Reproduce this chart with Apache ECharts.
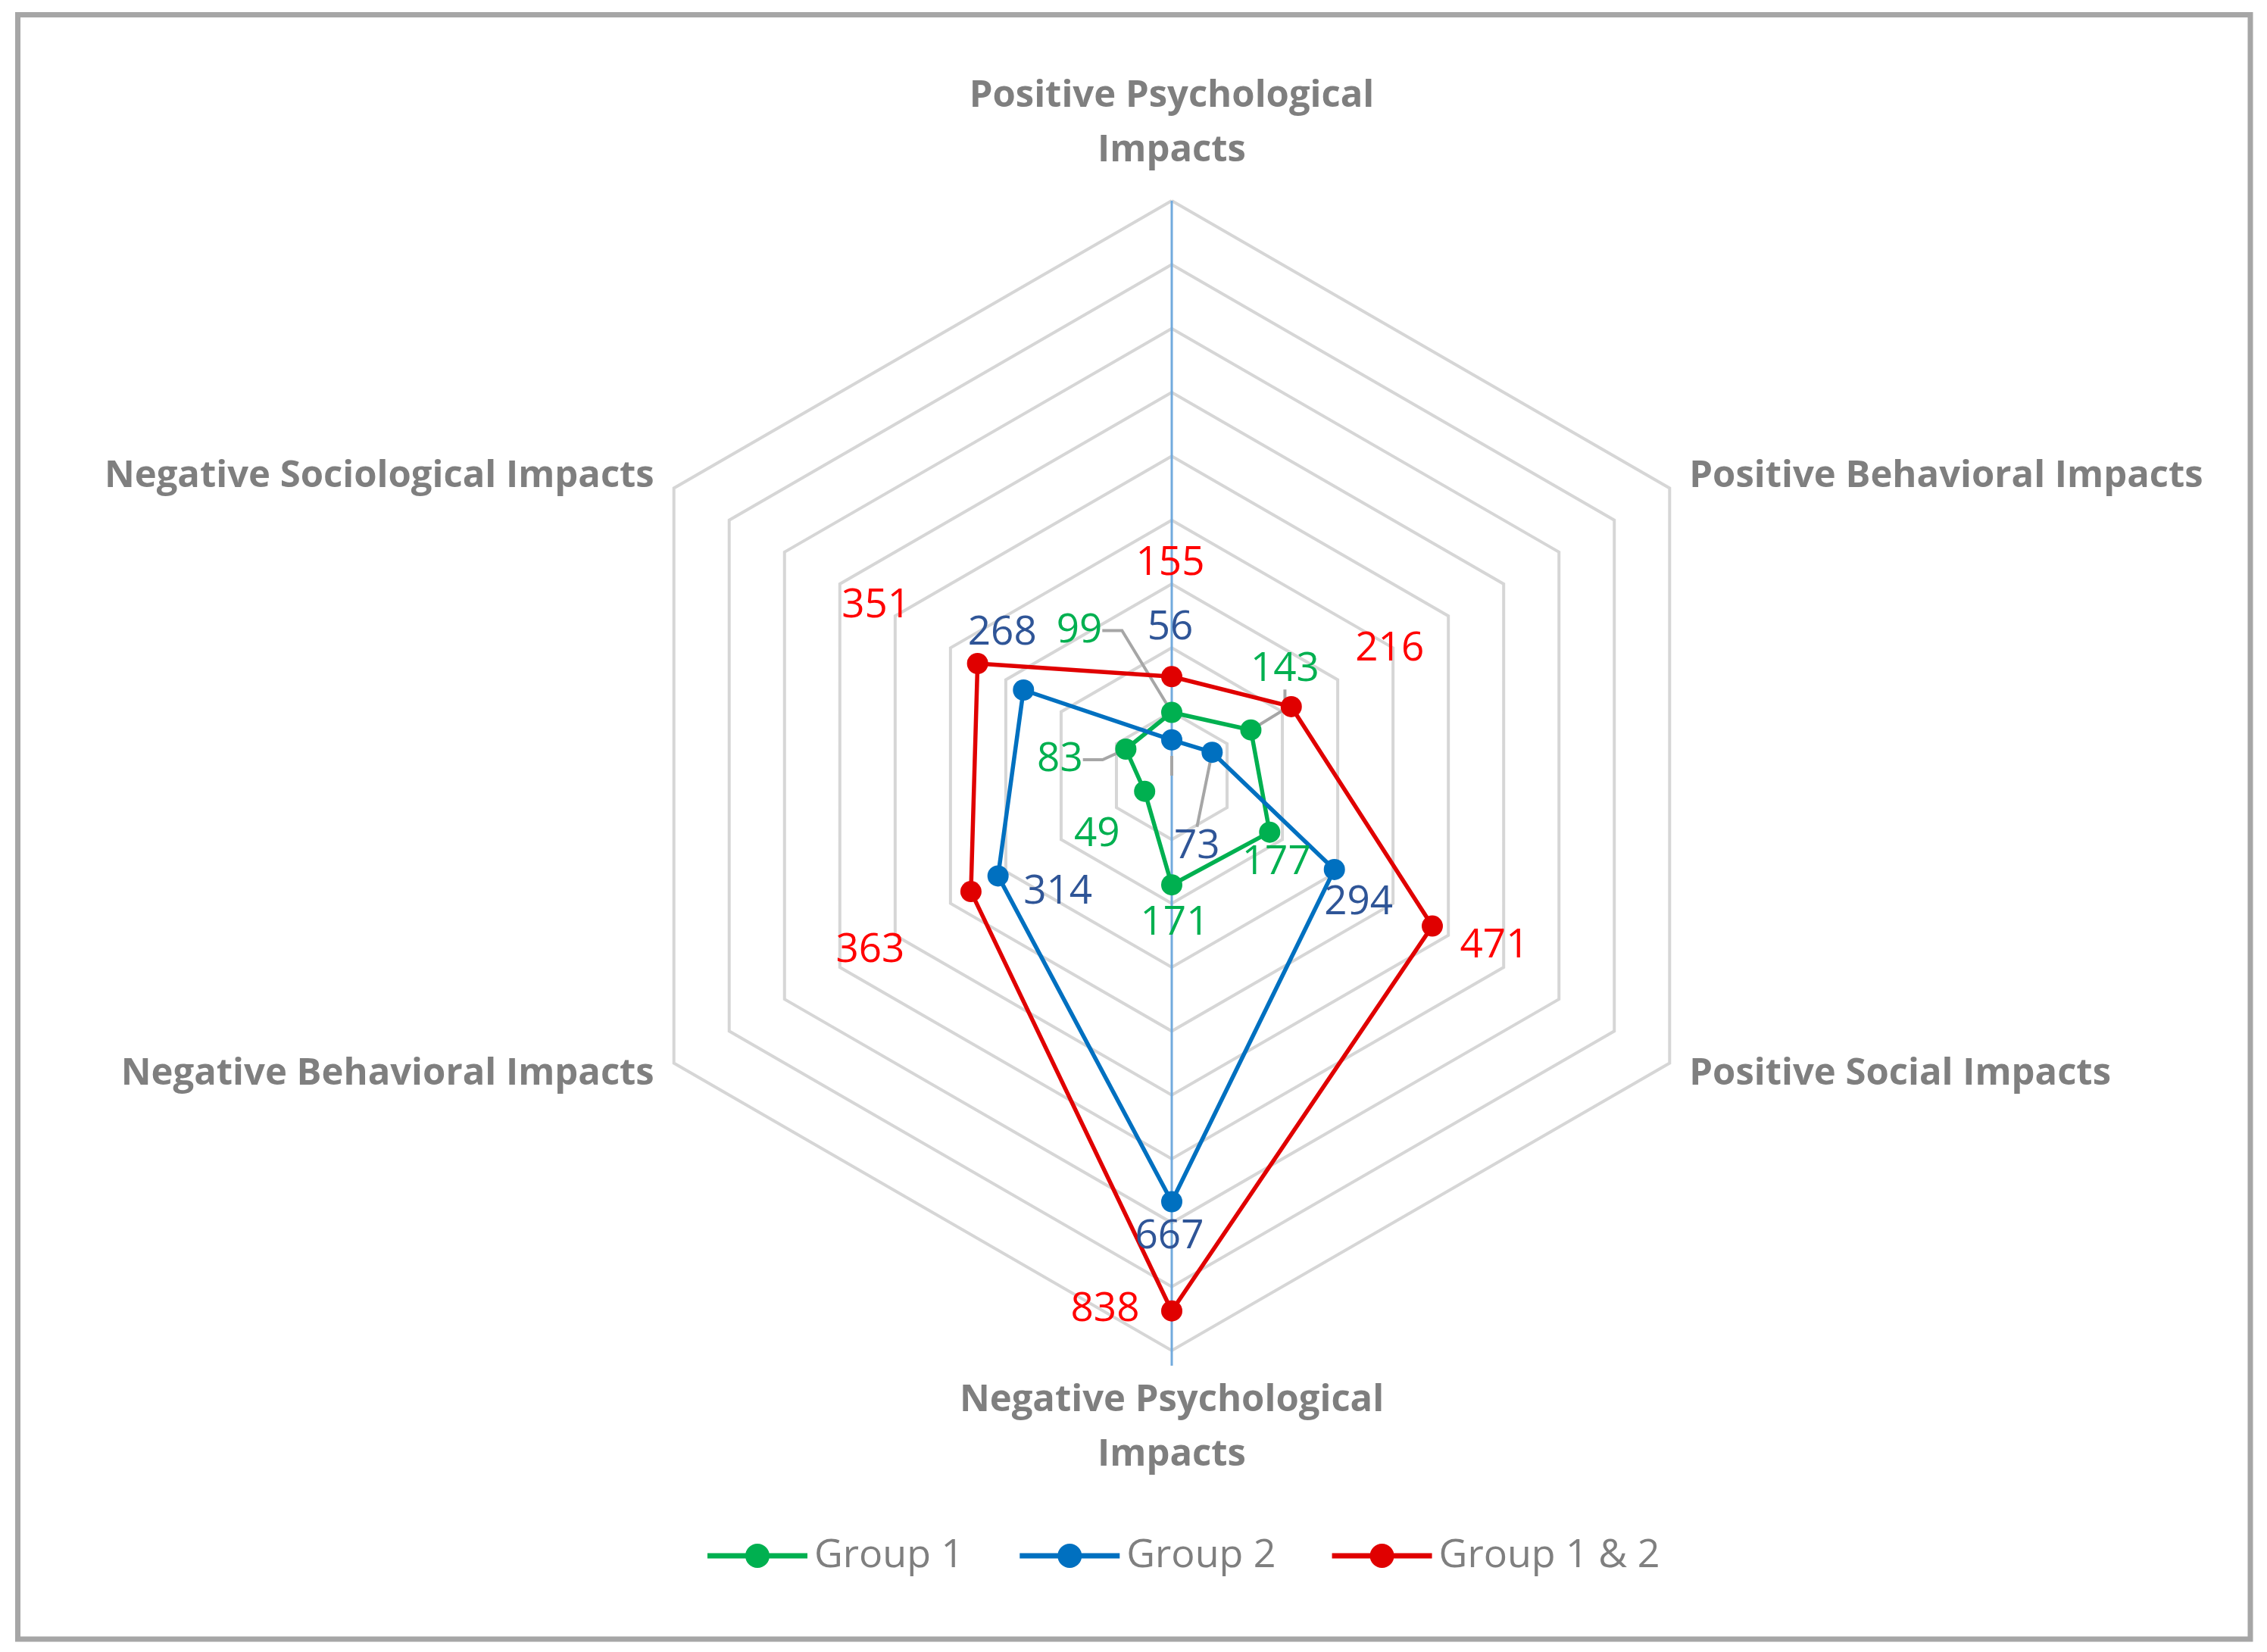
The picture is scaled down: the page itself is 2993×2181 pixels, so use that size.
<!DOCTYPE html>
<html>
<head>
<meta charset="utf-8">
<script src="https://cdn.jsdelivr.net/npm/echarts@6/dist/echarts.min.js"></script>
<style>
html,body{margin:0;padding:0;background:#fff;}
#chart{width:2993px;height:2181px;}
</style>
</head>
<body>
<div id="chart"></div>
<script>
// ---- data (clockwise from top, as in the reference) ----
const categories = [
  'Positive Psychological Impacts',
  'Positive Behavioral Impacts',
  'Positive Social Impacts',
  'Negative Psychological Impacts',
  'Negative Behavioral Impacts',
  'Negative Sociological Impacts'
];
const seriesNames = ['Group 1', 'Group 2', 'Group 1 & 2'];
const group1 = [99, 143, 177, 171, 49, 83];
const group2 = [56, 73, 294, 667, 314, 268];
const group12 = [155, 216, 471, 838, 363, 351];
const axisMin = 0;
const axisMax = 900;
const splitCount = 9;

// ---- label placement (offset from the point, px) ----
const off1 = [[-122,-108],[45,-80],[9,40],[4,51],[-63,57],[-87,14]];
const off2 = [[-2,-148],[-20,125],[32,44],[-3,46],[79,22],[-28,-75]];
const off12 = [[-2,-149],[130,-76],[82,26],[-88,-2],[-133,78],[-134,-76]];
const leaders1 = [99, 143, 83];
const leaders2 = [73];

// ---- styling ----
const CX = 1547, CY = 1024, R = 759;
const lineColors = ['#00b050', '#0070c0', '#e00000'];
const labelColors = ['#00b050', '#2f5597', '#ff0000'];
const FONT = 'Open Sans';
const LABEL_SIZE = 53;

// radar draws indicators counter-clockwise; reorder to get the clockwise layout
const ORDER = [0, 5, 4, 3, 2, 1];
const reorder = arr => ORDER.map(i => arr[i]);

function placer(values, offs) {
  return function (p) {
    const t = String(p.text || '');
    const v = t === '' ? NaN : Number(t.replace(/[^0-9]/g, ''));
    const i = values.indexOf(v);
    const cx = p.rect.x + p.rect.width / 2;
    const cy = p.rect.y + p.rect.height / 2;
    if (i < 0) return { x: cx, y: cy, align: 'center', verticalAlign: 'middle' };
    return { x: cx + offs[i][0], y: cy + offs[i][1], align: 'center', verticalAlign: 'middle' };
  };
}

function mainSeries(k, values, offs) {
  return {
    type: 'radar',
    name: seriesNames[k],
    z: 2,
    symbol: 'circle',
    symbolSize: 28,
    lineStyle: { color: lineColors[k], width: 5.5 },
    itemStyle: { color: lineColors[k] },
    label: {
      show: true, position: 'top', color: labelColors[k],
      fontSize: LABEL_SIZE, fontFamily: FONT, textBorderWidth: 0
    },
    labelLayout: placer(values, offs),
    data: [{ name: seriesNames[k], value: reorder(values) }]
  };
}

// invisible copy of a group that only draws the gray leader lines of some labels
function leaderSeries(k, values, offs, leaders, len2) {
  const masked = values.map(v => leaders.indexOf(v) >= 0 ? v : '-');
  return {
    type: 'radar',
    name: '_leader' + k,
    z: 1,
    silent: true,
    symbol: 'circle',
    symbolSize: 1,
    lineStyle: { opacity: 0, width: 0 },
    itemStyle: { color: 'rgba(0,0,0,0)' },
    label: {
      show: true, position: 'top', color: 'rgba(0,0,0,0)',
      fontSize: LABEL_SIZE, fontFamily: FONT,
      formatter: p => leaders.indexOf(p.value) >= 0 ? '{p|' + p.value + '}' : '',
      rich: { p: { padding: [25, 25, 25, 25], fontSize: LABEL_SIZE, fontFamily: FONT, color: 'rgba(0,0,0,0)' } }
    },
    labelLine: { show: true, length2: len2, lineStyle: { color: '#a6a6a6', width: 4 } },
    labelLayout: placer(values, offs),
    data: [{ name: '_leader' + k, value: reorder(masked) }]
  };
}

const legendIcon = 'path://M0,12.5H50.5V19.5H0Z M81.5,12.5H132V19.5H81.5Z M50,16A16,16 0 1,1 82,16A16,16 0 1,1 50,16Z';

const chart = echarts.init(document.getElementById('chart'), null, { renderer: 'canvas' });
chart.setOption({
  animation: false,
  backgroundColor: '#ffffff',
  legend: {
    left: 929, top: 2023,
    itemWidth: 132, itemHeight: 32, itemGap: 74,
    selectedMode: false,
    icon: legendIcon,
    textStyle: { color: '#7f7f7f', fontSize: 52, fontFamily: FONT, padding: [0, 0, 0, 4] },
    data: seriesNames.map((n, k) => ({ name: n, itemStyle: { color: lineColors[k], borderWidth: 0 } }))
  },
  radar: {
    center: [CX, CY],
    radius: R,
    startAngle: 90,
    shape: 'polygon',
    splitNumber: splitCount,
    nameGap: 30,
    axisName: {
      color: '#7f7f7f', fontSize: 49, fontWeight: 'bold', fontFamily: FONT, lineHeight: 72,
      formatter: n => /Psychological/.test(n) ? n.replace(/ Impacts$/, '\nImpacts') : n
    },
    axisLine: { show: false },
    axisTick: { show: false },
    axisLabel: { show: false },
    splitArea: { show: false },
    splitLine: { lineStyle: { color: '#d6d6d6', width: 4 } },
    indicator: reorder(categories).map(n => ({ name: n, min: axisMin, max: axisMax }))
  },
  graphic: [
    {
      type: 'rect', z: 0, silent: true,
      shape: { x: 23.5, y: 19.5, width: 2947.5, height: 2144.5 },
      style: { fill: 'none', stroke: '#a6a6a6', lineWidth: 7 }
    },
    {
      type: 'line', z: 1, silent: true,
      shape: { x1: CX, y1: CY - R, x2: CX, y2: CY + R + 20 },
      style: { stroke: '#72aadd', lineWidth: 3 }
    }
  ],
  series: [
    leaderSeries(0, group1, off1, leaders1, 26),
    leaderSeries(1, group2, off2, leaders2, 0),
    mainSeries(0, group1, off1),
    mainSeries(1, group2, off2),
    mainSeries(2, group12, off12)
  ]
});
</script>
</body>
</html>
